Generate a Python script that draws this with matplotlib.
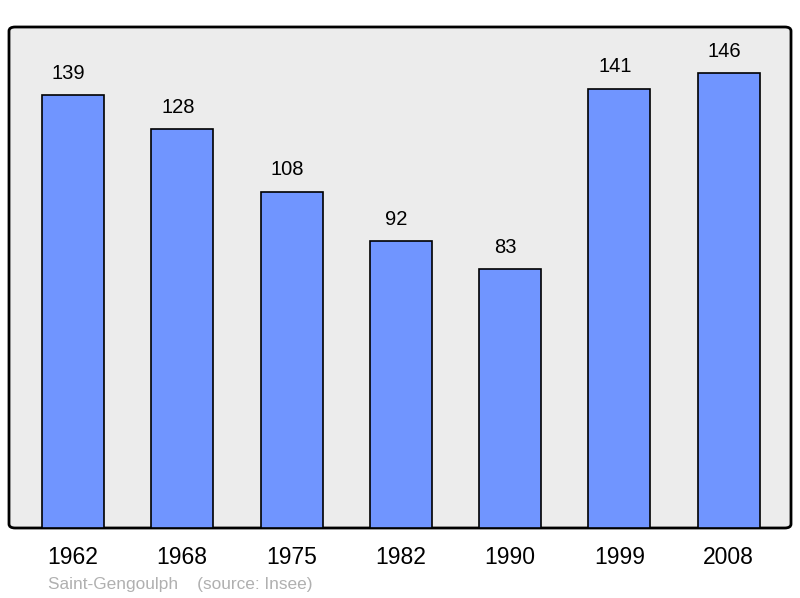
import numpy as np
import matplotlib.pyplot as plt
from matplotlib.patches import FancyBboxPatch

plt.rcParams['font.family'] = ['Liberation Sans', 'DejaVu Sans']

years = ['1962', '1968', '1975', '1982', '1990', '1999', '2008']
population = [139, 128, 108, 92, 83, 141, 146]

fig = plt.figure(figsize=(8, 5.98), dpi=100)
ax = fig.add_axes([9/800, 70/598, 782/800, 501/598])
ax.set_xlim(-0.585, 6.57)
ax.set_ylim(0, 160.8)
ax.patch.set_visible(False)
for s in ax.spines.values():
    s.set_visible(False)

# rounded frame
frame = FancyBboxPatch((0, 0), 1, 1, boxstyle='round,pad=0,rounding_size=0.008',
                       transform=ax.transAxes, facecolor='#ececec', edgecolor='black',
                       linewidth=2, zorder=0, clip_on=False)
ax.add_patch(frame)

x = np.arange(len(years))
ax.bar(x, population, width=0.567, color='#7095ff', edgecolor='black', linewidth=1.2, zorder=2)
for xi, v in zip(x, population):
    ax.text(xi - 0.04, v + 7, str(v), ha='center', va='center', fontsize=14.5, zorder=3)

ax.set_xticks(x)
ax.set_xticklabels(years, fontsize=16.5)
ax.tick_params(axis='x', length=0, pad=13)
ax.set_yticks([])

fig.text(48/800, 1 - 584/598, 'Saint-Gengoulph    (source: Insee)', fontsize=12.4,
         color='#b0b0b0', ha='left', va='center')

fig.savefig('out.png', dpi=100)
